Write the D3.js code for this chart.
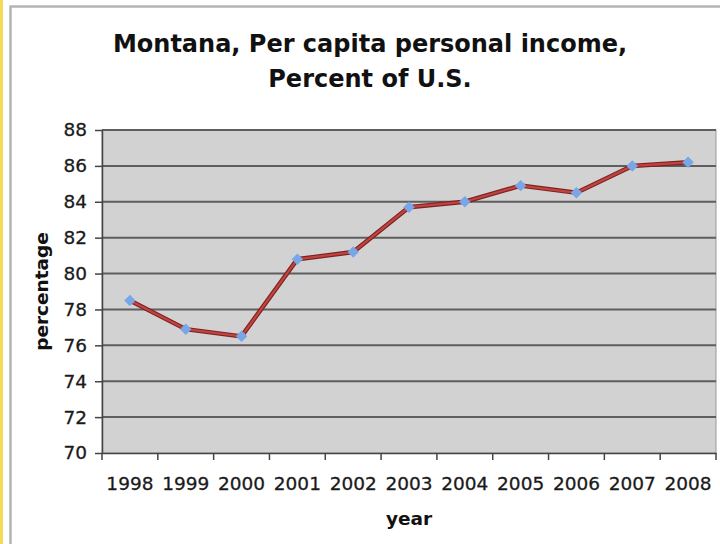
<!DOCTYPE html>
<html>
<head>
<meta charset="utf-8">
<script src="https://cdn.jsdelivr.net/npm/d3@7"></script>
<style>
  body { margin: 0; background: #fff; }
  svg { display: block; font-family: "DejaVu Sans", Verdana, sans-serif; }
</style>
</head>
<body>
<svg id="chart" width="720" height="544"></svg>
<script>
var years = ["1998", "1999", "2000", "2001", "2002", "2003", "2004", "2005", "2006", "2007", "2008"];
var percentOfUS = [78.5, 76.9, 76.5, 80.8, 81.2, 83.7, 84.0, 84.9, 84.5, 86.0, 86.2];
var yTicks = [70, 72, 74, 76, 78, 80, 82, 84, 86, 88];

var margin = {top: 130, right: 4, bottom: 91, left: 102};
var width = 720 - margin.left - margin.right;
var height = 544 - margin.top - margin.bottom;

var svg = d3.select("#chart");

// frame from the screenshot: yellow strip and grey border
svg.append("rect").attr("x", 0).attr("y", 0).attr("width", 3).attr("height", 544).attr("fill", "#f6d955");
svg.append("path")
  .attr("d", "M10.5,544V6.5H720")
  .attr("fill", "none").attr("stroke", "#b4b4b4").attr("stroke-width", 2.5);

svg.append("text")
  .attr("x", 370).attr("y", 52)
  .attr("text-anchor", "middle").attr("font-weight", "bold").attr("font-size", 24)
  .attr("fill", "#111")
  .text("Montana, Per capita personal income,");
svg.append("text")
  .attr("x", 370).attr("y", 87)
  .attr("text-anchor", "middle").attr("font-weight", "bold").attr("font-size", 24)
  .attr("fill", "#111")
  .text("Percent of U.S.");

var g = svg.append("g")
  .attr("transform", "translate(" + margin.left + "," + margin.top + ")");

var x = d3.scaleBand()
  .domain(years)
  .range([0, width])
  .padding(0);

var y = d3.scaleLinear()
  .domain([70, 88])
  .range([height, 0]);

g.append("rect")
  .attr("width", width).attr("height", height)
  .attr("fill", "#d2d2d2")
  .attr("stroke", "#9a9a9a").attr("stroke-width", 1);

// horizontal grid
g.append("g")
  .selectAll("line")
  .data(yTicks.slice(1))
  .enter().append("line")
    .attr("x1", 0).attr("x2", width)
    .attr("y1", function(d) { return y(d); })
    .attr("y2", function(d) { return y(d); })
    .attr("stroke", "#5e5e5e").attr("stroke-width", 2);

var yAxis = g.append("g")
  .call(d3.axisLeft(y).tickValues(yTicks).tickSizeInner(7).tickSizeOuter(0).tickPadding(8));
yAxis.select(".domain").attr("stroke", "#444").attr("stroke-width", 1.5);
yAxis.selectAll(".tick line").attr("stroke", "#444").attr("stroke-width", 1.5);
yAxis.selectAll(".tick text")
  .attr("font-size", 18.5).attr("fill", "#1a1a1a")
  .attr("stroke", "#1a1a1a").attr("stroke-width", 0.3)
  .attr("font-family", "DejaVu Sans, sans-serif");

var xAxis = g.append("g")
  .attr("transform", "translate(0," + height + ")")
  .call(d3.axisBottom(x).tickSize(0).tickPadding(24));
xAxis.select(".domain").attr("stroke", "#444").attr("stroke-width", 1.5);
xAxis.selectAll(".tick text")
  .attr("font-size", 18.5).attr("fill", "#1a1a1a")
  .attr("stroke", "#1a1a1a").attr("stroke-width", 0.3)
  .attr("font-family", "DejaVu Sans, sans-serif");

// ticks between categories
g.append("g")
  .selectAll("line")
  .data(years.concat(["end"]))
  .enter().append("line")
    .attr("x1", function(d, i) { return i < years.length ? x(d) : width; })
    .attr("x2", function(d, i) { return i < years.length ? x(d) : width; })
    .attr("y1", height).attr("y2", height + 7)
    .attr("stroke", "#444").attr("stroke-width", 1.5);

var pts = years.map(function(d, i) { return {year: d, value: percentOfUS[i]}; });

var line = d3.line()
  .x(function(d) { return x(d.year) + x.bandwidth() / 2; })
  .y(function(d) { return y(d.value); });

g.append("path")
  .datum(pts)
  .attr("fill", "none")
  .attr("stroke", "#7d2222").attr("stroke-width", 4.5)
  .attr("d", line);
g.append("path")
  .datum(pts)
  .attr("fill", "none")
  .attr("stroke", "#c24440").attr("stroke-width", 2.2)
  .attr("d", line);

g.append("g")
  .selectAll("path")
  .data(pts)
  .enter().append("path")
    .attr("d", d3.symbol().type(d3.symbolSquare).size(66))
    .attr("transform", function(d) {
      return "translate(" + (x(d.year) + x.bandwidth() / 2) + "," + y(d.value) + ") rotate(45)";
    })
    .attr("fill", "#78a6e6");

svg.append("text")
  .attr("transform", "translate(48," + (margin.top + height / 2) + ") rotate(-90)")
  .attr("text-anchor", "middle").attr("font-weight", "bold").attr("font-size", 18.5)
  .attr("fill", "#111")
  .text("percentage");

svg.append("text")
  .attr("x", margin.left + width / 2).attr("y", 525)
  .attr("text-anchor", "middle").attr("font-weight", "bold").attr("font-size", 18.5)
  .attr("fill", "#111")
  .text("year");
</script>
</body>
</html>
